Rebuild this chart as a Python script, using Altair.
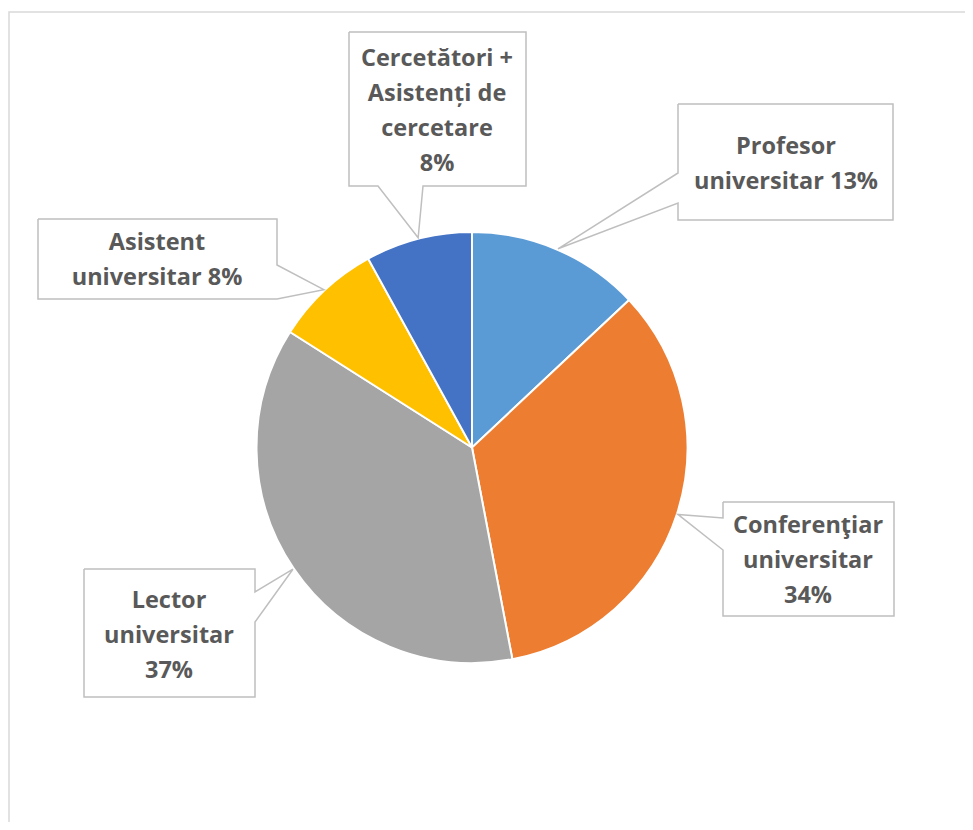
import math
import altair as alt
import pandas as pd

# ---- data ----
categories = [
    "Profesor universitar",
    "Conferenţiar universitar",
    "Lector universitar",
    "Asistent universitar",
    "Cercetători + Asistenți de cercetare",
]
values = [13, 34, 37, 8, 8]
colors = ["#5B9BD5", "#ED7D31", "#A5A5A5", "#FFC000", "#4472C4"]
label_lines = [
    ["Profesor", "universitar {p}%"],
    ["Conferenţiar", "universitar", "{p}%"],
    ["Lector", "universitar", "{p}%"],
    ["Asistent", "universitar {p}%"],
    ["Cercetători +", "Asistenți de", "cercetare", "{p}%"],
]

# ---- layout (page pixels) ----
W, H = 957, 814
OX, OY = 8, 8
CX, CY, R = 472, 447.5, 215.5
# box x0, y0, x1, y1, pointer side, pointer base a, b ; text centre x, first line y
boxes = [
    (678, 104, 893, 220, "left", 173, 203, 786, 147),
    (723, 502, 894, 616, "left", 518, 550, 808, 526),
    (84, 569, 255, 697, "right", 592, 622, 169, 601),
    (38, 219, 277, 299, "right", 265, 299, 157, 243),
    (349, 32, 526, 186, "bottom", 378, 423, 437, 59),
]

total = sum(values)
pie_df = pd.DataFrame({"cat": categories, "value": values, "idx": list(range(len(values)))})

poly_rows = []
text_rows = []
cum = 0
for i, (cat, v) in enumerate(zip(categories, values)):
    mid = (cum + v / 2) / total * 2 * math.pi
    cum += v
    tx = CX + (R + 1) * math.sin(mid)
    ty = CY - (R + 1) * math.cos(mid)
    x0, y0, x1, y1, side, a, b, lx, ly = boxes[i]
    pts = [(x0, y0), (x1, y0)]
    if side == "right":
        pts += [(x1, a), (tx, ty), (x1, b)]
    pts += [(x1, y1)]
    if side == "bottom":
        pts += [(b, y1), (tx, ty), (a, y1)]
    pts += [(x0, y1)]
    if side == "left":
        pts += [(x0, b), (tx, ty), (x0, a)]
    pts += [(x0, y0)]
    for k, (px, py) in enumerate(pts):
        poly_rows.append({"cat": cat, "k": k, "x": px, "y": py})
    text = "\n".join(l.format(p=round(v / total * 100)) for l in label_lines[i])
    text_rows.append({"cat": cat, "x": lx, "y": ly, "t": text})

poly_df = pd.DataFrame(poly_rows)
text_df = pd.DataFrame(text_rows)

xs = alt.Scale(domain=[OX, OX + W], nice=False, zero=False)
ys = alt.Scale(domain=[OY, OY + H], reverse=True, nice=False, zero=False)

frame = alt.Chart(pd.DataFrame({"x": [9], "x2": [1200], "y": [12], "y2": [1200]})).mark_rect(
    fill="white", stroke="#D9D9D9", strokeWidth=1.5, clip=True
).encode(
    x=alt.X("x:Q", scale=xs, axis=None),
    x2="x2:Q",
    y=alt.Y("y:Q", scale=ys, axis=None),
    y2="y2:Q",
)

pie = alt.Chart(pie_df).mark_arc(radius=R, stroke="white", strokeWidth=2).encode(
    theta=alt.Theta("value:Q", stack=True),
    color=alt.Color("cat:N", scale=alt.Scale(domain=categories, range=colors), legend=None),
    order=alt.Order("idx:Q"),
    x=alt.value(CX - OX),
    y=alt.value(CY - OY),
)

callouts = alt.Chart(poly_df).mark_line(color="#BFBFBF", strokeWidth=1.5).encode(
    x=alt.X("x:Q", scale=xs, axis=None),
    y=alt.Y("y:Q", scale=ys, axis=None),
    order="k:Q",
    detail="cat:N",
)

labels = alt.Chart(text_df).mark_text(
    lineBreak="\n", lineHeight=35, font="Open Sans", fontWeight="bold", fontSize=23.5,
    color="#595959", align="center", baseline="middle",
).encode(
    x=alt.X("x:Q", scale=xs, axis=None),
    y=alt.Y("y:Q", scale=ys, axis=None),
    text="t:N",
)

chart = alt.layer(frame, pie, callouts, labels).properties(
    width=W, height=H, padding=0, autosize=alt.AutoSizeParams(type="none")
).configure_view(stroke=None)

chart.save("out.html", embed_options={"renderer": "svg", "actions": False})
